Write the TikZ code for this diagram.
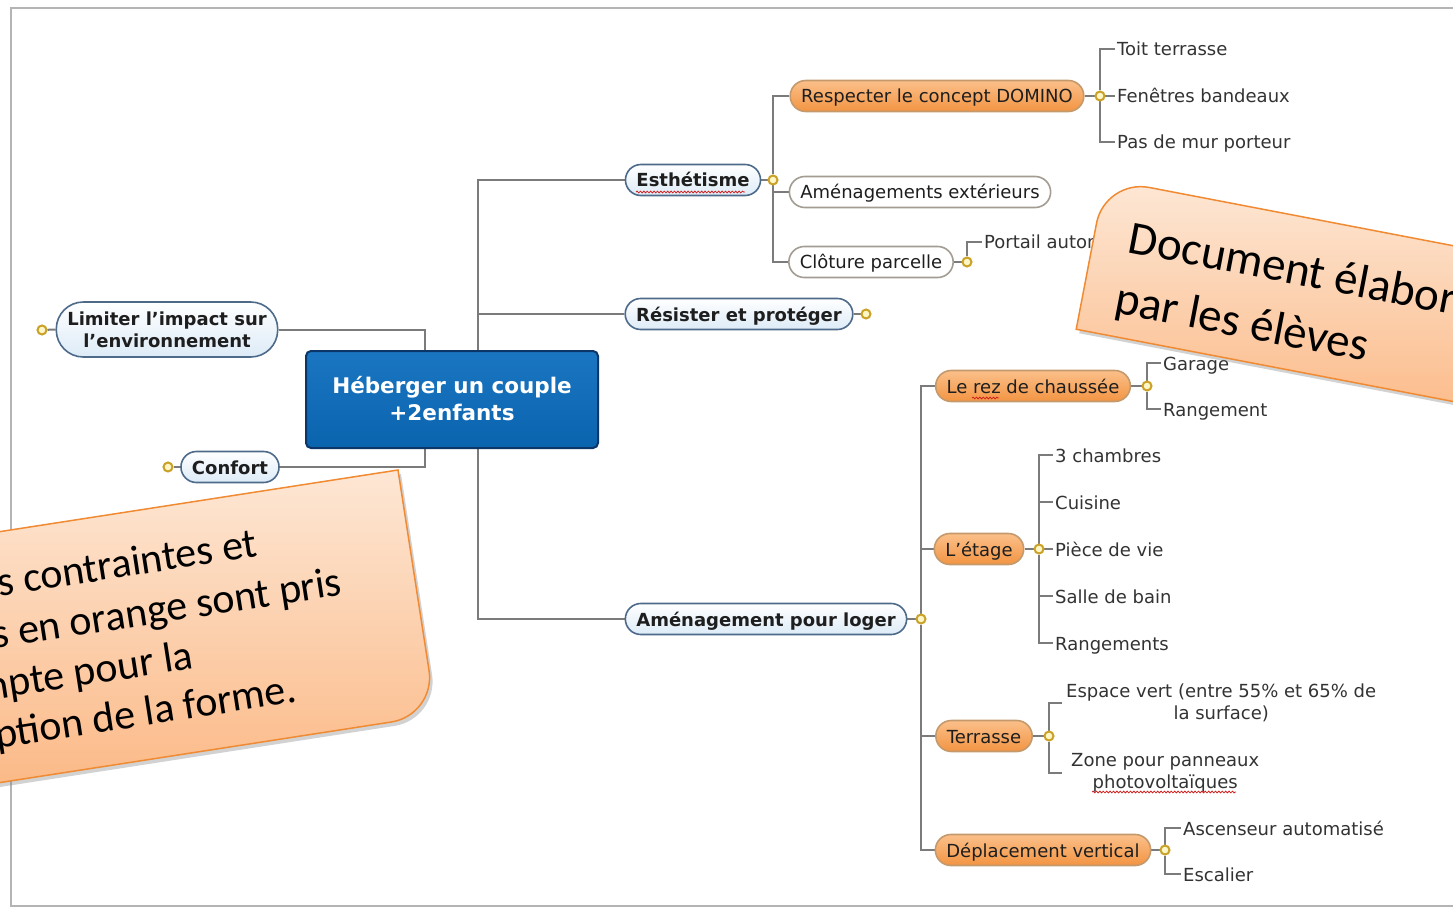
\documentclass[tikz,border=0pt]{standalone}
\usepackage{fontspec}
\setmainfont{DejaVu Sans}
\newfontfamily\notefont{Carlito}
\usetikzlibrary{shadows,decorations.pathmorphing,calc}
\pgfdeclarelayer{bg}
\pgfsetlayers{bg,main}
\definecolor{linec}{HTML}{7B7B7B}
\definecolor{framec}{HTML}{B4B4B4}
\definecolor{blueb}{HTML}{4D6A8A}
\definecolor{bluef}{HTML}{DDEBF7}
\definecolor{whiteb}{HTML}{A39C92}
\definecolor{orb}{HTML}{C49A6C}
\definecolor{ortop}{HTML}{FBC08A}
\definecolor{orbot}{HTML}{F29442}
\definecolor{goldc}{HTML}{C9A227}
\definecolor{goldf}{HTML}{FFF6C8}
\definecolor{textc}{HTML}{1E1E1E}
\definecolor{leafc}{HTML}{333333}
\definecolor{centb}{HTML}{0C3668}
\definecolor{centt}{HTML}{1B76C2}
\definecolor{centbot}{HTML}{0A63AD}
\definecolor{notebd}{HTML}{F08B33}
\definecolor{notetop}{HTML}{FDE7D5}
\definecolor{notebot}{HTML}{FBB27A}
\definecolor{squig}{HTML}{D02020}
\begin{document}
\begin{tikzpicture}[x=1pt,y=-1pt,
  conn/.style={draw=linec, line width=2pt},
  pillbase/.style={rounded corners=15.5pt, minimum height=31pt, inner xsep=11pt, inner ysep=0pt, line width=1.6pt, text=textc},
  pill/.style={pillbase, text height=16pt, text depth=2pt},
  bluepill/.style={pill, draw=blueb, top color=white, bottom color=bluef, font=\fontsize{18}{22}\selectfont\bfseries},
  whitepill/.style={pill, draw=whiteb, fill=white, font=\fontsize{18}{22}\selectfont},
  orangepill/.style={pill, draw=orb, top color=ortop, bottom color=orbot, font=\fontsize{18}{22}\selectfont},
  knob/.style={circle, draw=goldc, fill=goldf, line width=2pt, minimum size=9pt, inner sep=0pt},
  leaf/.style={anchor=west, inner xsep=2pt, inner ysep=1pt, text height=16pt, text depth=2pt, text=leafc, font=\fontsize{18}{22}\selectfont},
  leaf2/.style={anchor=west, inner ysep=1pt, align=center, text=leafc, font=\fontsize{18}{22}\selectfont},
  notefill/.style={draw=notebd, line width=1.5pt, top color=notetop, bottom color=notebot, drop shadow={opacity=0.35, shadow xshift=3pt, shadow yshift=-4pt}},
  notetext/.style={transform shape, inner sep=0pt, text=black},
  squiggle/.style={draw=squig, line width=0.8pt, decorate, decoration={snake, amplitude=0.9pt, segment length=3.4pt}}
]
\useasboundingbox (0,0) rectangle (1453,909);
\clip (0,0) rectangle (1453,909);

% central node
\node[draw=centb, line width=2pt, rounded corners=5pt, top color=centt, bottom color=centbot,
      minimum width=292pt, minimum height=97pt, align=center, text=white,
      font=\fontsize{21.5}{27}\selectfont\bfseries] (root) at (452,399.5) {\raisebox{2pt}{Héberger un couple}\\\raisebox{2pt}{+2enfants}};
\coordinate (trunkR) at (478,400);
\coordinate (trunkL) at (425,400);

% main branches
\node[bluepill] (esth) at (693,180) {Esthétisme};
\node[bluepill] (resist) at (739,314) {Résister et protéger};
\node[bluepill] (amen) at (766,619) {Aménagement pour loger};
\node[pillbase, draw=blueb, top color=white, bottom color=bluef, rounded corners=27pt, minimum height=55pt,
      align=center, font=\fontsize{18}{22}\selectfont\bfseries] (limit) at (167,329.5) {Limiter l'impact sur\\l'environnement};
\node[bluepill] (confort) at (230,467) {Confort};

% knobs
\node[knob] (kl) at (42,330) {};
\node[knob] (kcf) at (168,467) {};
\node[knob] (ke) at (773,180) {};
\node[knob] (kres) at (866,314) {};
\node[knob] (ka) at (921,619) {};

% Esthetisme children
\node[orangepill] (resp) at (937,96) {Respecter le concept DOMINO};
\node[whitepill] (amext) at (920,192) {Aménagements extérieurs};
\node[whitepill] (clot) at (871,262) {Clôture parcelle};
\node[knob] (kr) at (1100,96) {};
\node[knob] (kc) at (967,262) {};
\node[leaf] (toit) at (1115,49) {Toit terrasse};
\node[leaf] (fen) at (1115,96) {Fenêtres bandeaux};
\node[leaf] (pas) at (1115,142) {Pas de mur porteur};
\node[leaf] (port) at (982,242) {Portail automatique};

% Amenagement children
\node[orangepill] (rez) at (1033,386) {Le rez de chaussée};
\node[orangepill] (etage) at (979,549) {L'étage};
\node[orangepill] (terr) at (984,736) {Terrasse};
\node[orangepill] (dep) at (1043,850) {Déplacement vertical};
\node[knob] (krez) at (1147,386) {};
\node[knob] (ket) at (1039,549) {};
\node[knob] (kte) at (1049,736) {};
\node[knob] (kde) at (1165,850) {};
\node[leaf] (gar) at (1161,363) {Garage};
\node[leaf] (rang) at (1161,409) {Rangement};
\node[leaf] (ch) at (1053,455) {3 chambres};
\node[leaf] (cui) at (1053,502) {Cuisine};
\node[leaf] (piece) at (1053,549) {Pièce de vie};
\node[leaf] (salle) at (1053,596) {Salle de bain};
\node[leaf] (rangs) at (1053,643) {Rangements};
\node[leaf2, inner xsep=4pt] (ev) at (1062,703) {Espace vert (entre 55\% et 65\% de\\la surface)};
\node[leaf2, inner xsep=9pt] (zp) at (1062,773) {Zone pour panneaux\\photovoltaïques};
\node[leaf] (asc) at (1181,828) {Ascenseur automatisé};
\node[leaf] (esc) at (1181,874) {Escalier};

\begin{pgfonlayer}{bg}
  \fill[white] (0,0) rectangle (1453,909);
  \draw[framec, line width=2.5pt] (1470,8) -- (11,8) -- (11,906) -- (1470,906);
  \draw[conn] (trunkR) |- (esth.west);
  \draw[conn] (trunkR) |- (resist.west);
  \draw[conn] (trunkR) |- (amen.west);
  \draw[conn] (trunkL) |- (limit.east);
  \draw[conn] (trunkL) |- (confort.east);
  \draw[conn] (kl) -- (limit.west);
  \draw[conn] (kcf) -- (confort.west);
  \draw[conn] (esth.east) -- (ke);
  \draw[conn] (resist.east) -- (kres);
  \draw[conn] (amen.east) -- (ka);
  \draw[conn] (ke) |- (resp.west);
  \draw[conn] (ke) |- (amext.west);
  \draw[conn] (ke) |- (clot.west);
  \draw[conn] (resp.east) -- (kr);
  \draw[conn] (clot.east) -- (kc);
  \draw[conn] (kr) |- (toit.west);
  \draw[conn] (kr) |- (fen.west);
  \draw[conn] (kr) |- (pas.west);
  \draw[conn] (kc) |- (port.west);
  \draw[conn] (ka) |- (rez.west);
  \draw[conn] (ka) |- (etage.west);
  \draw[conn] (ka) |- (terr.west);
  \draw[conn] (ka) |- (dep.west);
  \draw[conn] (rez.east) -- (krez);
  \draw[conn] (etage.east) -- (ket);
  \draw[conn] (terr.east) -- (kte);
  \draw[conn] (dep.east) -- (kde);
  \draw[conn] (krez) |- (gar.west);
  \draw[conn] (krez) |- (rang.west);
  \draw[conn] (ket) |- (ch.west);
  \draw[conn] (ket) |- (cui.west);
  \draw[conn] (ket) |- (piece.west);
  \draw[conn] (ket) |- (salle.west);
  \draw[conn] (ket) |- (rangs.west);
  \draw[conn] (kte) |- (ev.west);
  \draw[conn] (kte) |- (zp.west);
  \draw[conn] (kde) |- (asc.west);
  \draw[conn] (kde) |- (esc.west);
\end{pgfonlayer}

% spell-check underlines
\draw[squiggle] (636,192) -- (745,192);
\draw[squiggle] (972,398) -- (999,398);
\draw[squiggle] (1092,792) -- (1236,792);

% top-right note
\begin{scope}[shift={(1105,179)}, rotate=-10.85]
  \path[notefill] (0,153) -- (0,45) .. controls (0,20.15) and (20.15,0) .. (45,0) -- (720,0) -- (720,153) -- cycle;
  \node[notetext, anchor=base west, font=\notefont\fontsize{47}{57}\selectfont] (n1a) at (35,68) {Document élaboré};
  \node[notetext, anchor=base west, font=\notefont\fontsize{47}{57}\selectfont] (n1b) at (33,130) {par les élèves};
\end{scope}

% bottom-left note
\begin{scope}[shift={(398,470)}, rotate=8.8]
  \path[notefill] (-800,0) -- (0,0) -- (0,203) .. controls (0,227.85) and (-20.15,248) .. (-45,248) -- (-800,248) -- cycle;
  \node[notetext, anchor=base east, font=\notefont\fontsize{42}{50}\selectfont] (n2a) at (-151,64) {Les contraintes et};
  \node[notetext, anchor=base east, font=\notefont\fontsize{42}{50}\selectfont] (n2b) at (-73,115) {exigences en orange sont pris};
  \node[notetext, anchor=base east, font=\notefont\fontsize{42}{50}\selectfont] (n2c) at (-231,165) {en compte pour la};
  \node[notetext, anchor=base east, font=\notefont\fontsize{42}{50}\selectfont] (n2d) at (-134,214) {conception de la forme.};
\end{scope}
\end{tikzpicture}
\end{document}
